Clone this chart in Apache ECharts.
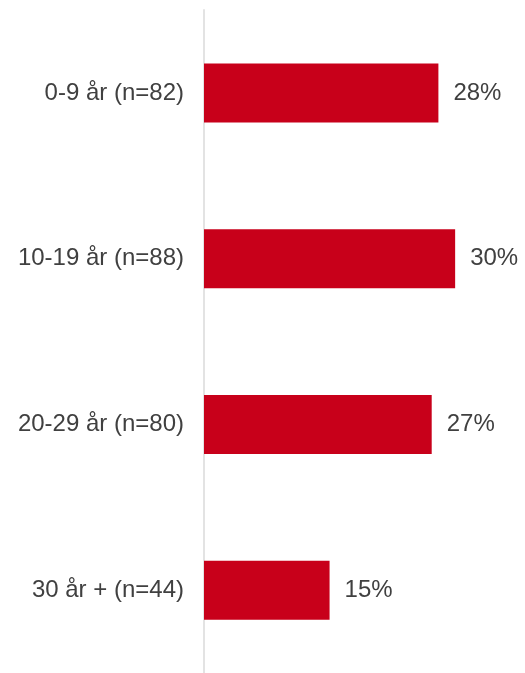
<!DOCTYPE html>
<html>
<head>
<meta charset="utf-8">
<script src="https://cdn.jsdelivr.net/npm/echarts@6/dist/echarts.min.js"></script>
<style>html,body{margin:0;padding:0;background:#fff;}#c{width:525px;height:673px;}</style>
</head>
<body>
<div id="c"></div>
<script>
var categories = ['0-9 år (n=82)', '10-19 år (n=88)', '20-29 år (n=80)', '30 år + (n=44)'];
var values = [28, 30, 27.2, 15];
var valueLabels = ['28%', '30%', '27%', '15%'];

var chart = echarts.init(document.getElementById('c'));
chart.setOption({
  animation: false,
  grid: { left: 204, width: 311, top: 10, height: 666, containLabel: false },
  xAxis: {
    type: 'value', min: 0, max: 37.15, show: false
  },
  yAxis: {
    type: 'category', data: categories, inverse: true,
    axisLine: { show: true, lineStyle: { color: '#e3e3e3', width: 2 } },
    axisTick: { show: false },
    axisLabel: { color: '#404040', fontSize: 24, fontFamily: 'Liberation Sans, Arial, sans-serif', margin: 20, padding: [3, 0, 0, 0] },
    splitLine: { show: false }
  },
  series: [{
    type: 'bar',
    data: values,
    barWidth: 59,
    itemStyle: { color: '#C8001A' },
    label: {
      show: true, position: 'right', distance: 15,
      color: '#404040', fontSize: 24, fontFamily: 'Liberation Sans, Arial, sans-serif',
      padding: [3, 0, 0, 0],
      formatter: function (p) { return valueLabels[p.dataIndex]; }
    }
  }]
});
</script>
</body>
</html>
